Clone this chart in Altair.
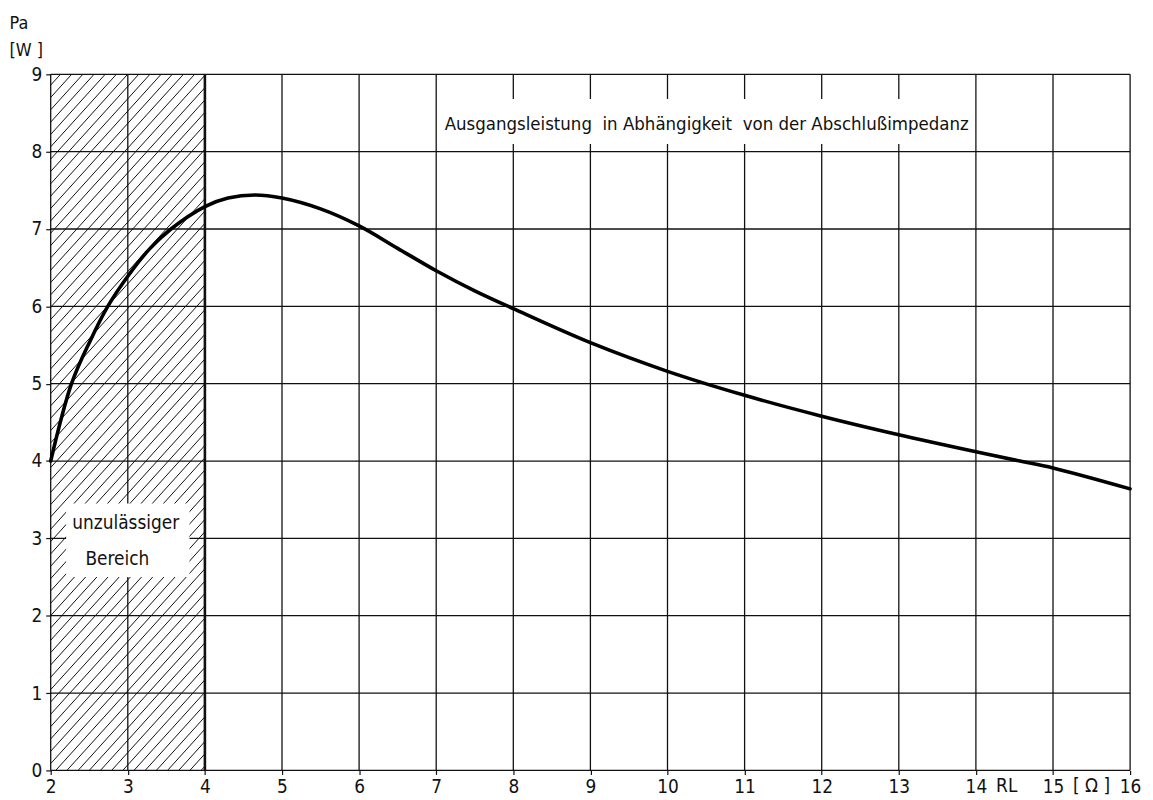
import altair as alt
import pandas as pd

# ---- data ----
x_ticks = list(range(2, 17))          # RL [Ohm]
y_ticks = list(range(0, 10))          # Pa [W]

rl_ohm = [2.0, 2.27, 2.51, 2.74, 3.0, 3.28, 3.56, 4.0, 4.3, 4.65,
          5.0, 5.5, 6.0, 6.5, 7.0, 7.5, 8.0, 9.0, 10.0, 11.0,
          12.0, 13.0, 14.0, 14.57, 15.0, 16.0]
pa_watt = [4.0, 5.0, 5.55, 6.0, 6.39, 6.74, 7.0, 7.29, 7.40, 7.44,
           7.40, 7.26, 7.04, 6.75, 6.46, 6.2, 5.97, 5.53, 5.16, 4.85,
           4.58, 4.34, 4.12, 4.0, 3.91, 3.64]

forbidden_x = [2.0, 4.0]   # "unzulässiger Bereich"
y_range = [0.0, 9.0]

title_text = "Ausgangsleistung \u00a0in Abhängigkeit \u00a0von der Abschlußimpedanz"
region_lines = ["unzulässiger", "Bereich"]

FONT = "DejaVu Sans Condensed, Liberation Sans Narrow, sans-serif"
INK = "#111111"

xs = alt.Scale(domain=[x_ticks[0], x_ticks[-1]], nice=False, zero=False)
ys = alt.Scale(domain=[y_ticks[0], y_ticks[-1]], nice=False, zero=False)

x_axis = alt.Axis(values=x_ticks, title=None, grid=False, domain=False,
                  tickSize=4, tickColor=INK, tickWidth=1.2, labelPadding=3,
                  labelFont=FONT, labelFontSize=19, labelColor=INK,
                  labelFlush=False)
y_axis = alt.Axis(values=y_ticks, title=["Pa", "[W ]"], grid=False, domain=False,
                  tickSize=5, tickColor=INK, tickWidth=1.2, labelPadding=4,
                  labelFont=FONT, labelFontSize=19, labelColor=INK,
                  titleAngle=0, titleAlign="left", titleBaseline="top",
                  titleX=-42, titleY=-60, titleFont=FONT, titleFontSize=18,
                  titleFontWeight="normal", titleColor=INK, titleLineHeight=27)


def X(field):
    return alt.X(field, scale=xs, axis=x_axis)


def Y(field):
    return alt.Y(field, scale=ys, axis=y_axis)


# ---- grid ----
vgrid = pd.DataFrame({"x": x_ticks, "y": y_range[0], "y2": y_range[1]})
hgrid = pd.DataFrame({"y": y_ticks, "x": x_ticks[0], "x2": x_ticks[-1]})

vlines = alt.Chart(vgrid).mark_rule(color=INK, strokeWidth=1.3).encode(
    x=X("x:Q"), y=Y("y:Q"), y2="y2:Q")
hlines = alt.Chart(hgrid).mark_rule(color=INK, strokeWidth=1.3).encode(
    x=X("x:Q"), x2="x2:Q", y=Y("y:Q"))

# ---- hatching of the forbidden region ----
k = 1.1
step = 0.145
xa, xb = forbidden_x
ya, yb = y_range
rows = []
x0 = xb - 0.05
while x0 > xa - (yb - ya) / k:
    y_start = k * (xa - x0)
    p1 = (xa, y_start) if y_start >= ya else (x0, ya)
    y_end = k * (xb - x0)
    p2 = (xb, y_end) if y_end <= yb else (x0 + yb / k, yb)
    if p1[1] < yb:
        rows.append({"x": p1[0], "y": p1[1], "x2": p2[0], "y2": p2[1]})
    x0 -= step
hatch_df = pd.DataFrame(rows)
hatch = alt.Chart(hatch_df).mark_rule(color=INK, strokeWidth=1.0).encode(
    x=X("x:Q"), x2="x2:Q", y=Y("y:Q"), y2="y2:Q")

# ---- white label boxes ----
boxes_df = pd.DataFrame({
    "x": [7.05, 2.2], "x2": [13.85, 3.8],
    "y": [8.1, 2.5], "y2": [8.68, 3.45],
})
boxes = alt.Chart(boxes_df).mark_rect(color="white").encode(
    x=X("x:Q"), x2="x2:Q", y=Y("y:Q"), y2="y2:Q")

# ---- boundary line of forbidden region ----
border_df = pd.DataFrame({"x": [forbidden_x[1]], "y": [y_range[0]], "y2": [y_range[1]]})
border = alt.Chart(border_df).mark_rule(color=INK, strokeWidth=2.6).encode(
    x=X("x:Q"), y=Y("y:Q"), y2="y2:Q")

# ---- texts ----
title_df = pd.DataFrame({"x": [7.11], "y": [8.36], "t": [title_text]})
title_mark = alt.Chart(title_df).mark_text(
    align="left", baseline="middle", font=FONT, fontSize=18.6, color=INK
).encode(x=X("x:Q"), y=Y("y:Q"), text="t:N")

region_df = pd.DataFrame({"x": [2.28, 2.45], "y": [3.2, 2.73], "t": region_lines})
region_mark = alt.Chart(region_df).mark_text(
    align="left", baseline="middle", font=FONT, fontSize=19, color=INK
).encode(x=X("x:Q"), y=Y("y:Q"), text="t:N")

unit_df = pd.DataFrame({"x": [14.4, 15.5], "y": [0.0, 0.0], "t": ["RL", "[ Ω ]"]})
unit_mark = alt.Chart(unit_df).mark_text(
    align="center", baseline="top", dy=7, font=FONT, fontSize=19, color=INK
).encode(x=X("x:Q"), y=Y("y:Q"), text="t:N")

# ---- curve ----
curve_df = pd.DataFrame({"RL": rl_ohm, "Pa": pa_watt})
curve = alt.Chart(curve_df).mark_line(
    interpolate="catmull-rom", color="black", strokeWidth=3.6, strokeCap="round"
).encode(x=X("RL:Q"), y=Y("Pa:Q"))

chart = alt.layer(
    vlines, hlines, hatch, boxes, border, title_mark, region_mark, unit_mark, curve
).properties(
    width=1087, height=701,
    autosize=alt.AutoSizeParams(type="none"),
    padding={"left": 43, "top": 64, "right": 15, "bottom": 26},
    background="white",
).configure_view(stroke=None)

chart.save("out.html", embed_options={"renderer": "svg", "actions": False})
